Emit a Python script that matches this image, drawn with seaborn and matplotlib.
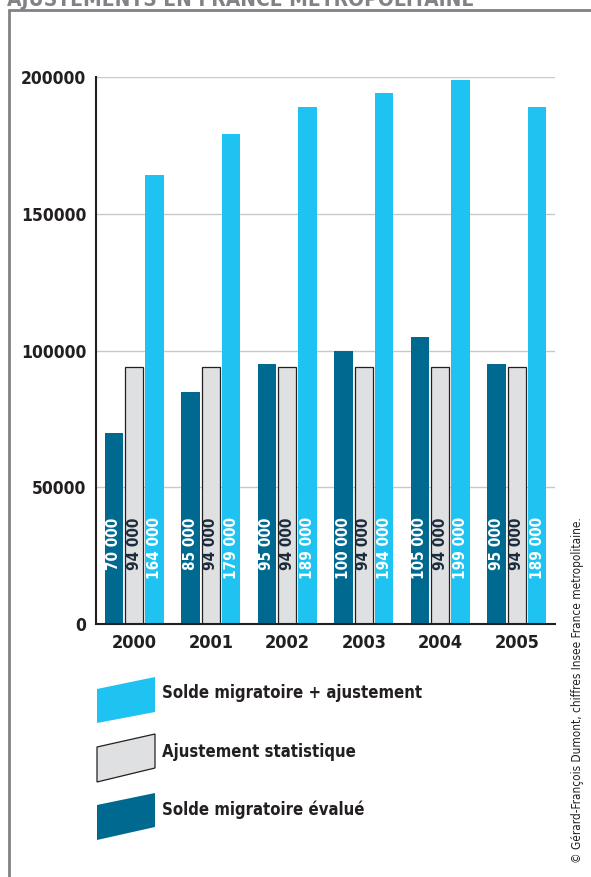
import matplotlib
matplotlib.use("Agg")
import matplotlib.pyplot as plt
import seaborn as sns
import pandas as pd
from matplotlib.patches import Polygon
from matplotlib.lines import Line2D

# Données
years = ["2000", "2001", "2002", "2003", "2004", "2005"]
solde_evalue = [70000, 85000, 95000, 100000, 105000, 95000]
ajustement = [94000, 94000, 94000, 94000, 94000, 94000]
solde_ajuste = [164000, 179000, 189000, 194000, 199000, 189000]
series = ["Solde migratoire évalué", "Ajustement statistique", "Solde migratoire + ajustement"]
colors = ["#006990", "#dfe0e2", "#1ec3f1"]
label_colors = ["#ffffff", "#1c2b3a", "#ffffff"]
y_ticks = [0, 50000, 100000, 150000, 200000]
title = "AJUSTEMENTS EN FRANCE MÉTROPOLITAINE"
credit = "© Gérard-François Dumont, chiffres Insee France metropolitaine."

sns.set_theme(style="white")
plt.rcParams['font.family'] = ['DejaVu Sans']
plt.rcParams['font.stretch'] = 'condensed'

rows = []
for s, vals in zip(series, [solde_evalue, ajustement, solde_ajuste]):
    for y, v in zip(years, vals):
        rows.append({"annee": y, "serie": s, "valeur": v})
df = pd.DataFrame(rows)

W, H = 591, 877
fig = plt.figure(figsize=(W / 100, H / 100), dpi=100)
fx = lambda x: x / W
fy = lambda y: 1 - y / H

ax = fig.add_axes([fx(96), fy(624), (555 - 96) / W, (624 - 77) / H])
sns.barplot(data=df, x="annee", y="valeur", hue="serie", hue_order=series,
            palette=dict(zip(series, colors)), saturation=1, gap=0.1,
            width=0.8, legend=False, ax=ax)

# bordure des barres grises + étiquettes
for i, cont in enumerate(ax.containers):
    for p in cont.patches:
        if i == 1:
            p.set_edgecolor("#231f20")
            p.set_linewidth(0.9)
        else:
            p.set_linewidth(0)
        v = p.get_height()
        ax.text(p.get_x() + p.get_width() / 2, 39000, f"{int(v):,}".replace(",", " "),
                rotation=90, ha="center", va="top", color=label_colors[i],
                fontsize=11, fontweight="bold", fontstretch="condensed")

ax.set_xlim(-0.5, 5.5)
ax.set_ylim(0, 200000)
ax.set_yticks(y_ticks)
ax.set_yticklabels([str(t) for t in y_ticks])
ax.set_axisbelow(True)
ax.yaxis.grid(True, color="#c9c9c9", lw=1)
ax.xaxis.grid(False)
ax.set_xlabel("")
ax.set_ylabel("")
sns.despine(ax=ax)
for s in ["left", "bottom"]:
    ax.spines[s].set_color("#231f20")
    ax.spines[s].set_linewidth(1.5)
ax.tick_params(axis="y", length=0, pad=7, labelsize=12.5, labelcolor="#231f20")
ax.tick_params(axis="x", length=0, pad=7, labelsize=13, labelcolor="#231f20")
for lab in ax.get_xticklabels() + ax.get_yticklabels():
    lab.set_fontweight("bold")
    lab.set_fontstretch("condensed")
ax.set_xticks([0.5, 1.5, 2.5, 3.5, 4.5, 5.5], minor=True)
ax.tick_params(axis="x", which="minor", direction="in", length=6, width=1.2, color="#231f20")

# légende
legend_shapes = [
    [(97, 689), (155, 677), (155, 712), (97, 723)],
    [(97, 747), (155, 734), (155, 768), (97, 782)],
    [(97, 805), (155, 793), (155, 827), (97, 840)],
]
legend_text_y = [693, 752, 810]
for k, idx in enumerate([2, 1, 0]):
    pts = [(fx(x), fy(y)) for x, y in legend_shapes[k]]
    fig.patches.append(Polygon(pts, closed=True, transform=fig.transFigure,
                               facecolor=colors[idx],
                               edgecolor="#231f20" if idx == 1 else "none", lw=0.9))
    fig.text(fx(162), fy(legend_text_y[k]), series[idx], ha="left", va="center",
             fontsize=12, fontweight="bold", fontstretch="condensed", color="#231f20")

# cadre et titre
fig.add_artist(Line2D([fx(9), 1], [fy(10), fy(10)], transform=fig.transFigure,
                      color="#808285", lw=2))
fig.add_artist(Line2D([fx(9), fx(9)], [fy(10), 0], transform=fig.transFigure,
                      color="#808285", lw=2))
fig.text(fx(7), fy(6), title, ha="left", va="baseline", fontsize=15,
         fontweight="bold", fontstretch="condensed", color="#808285")

fig.text(fx(578), fy(690), credit, rotation=90, ha="center", va="center",
         fontsize=8.5, fontstretch="condensed", color="#231f20")

fig.savefig("out.png", dpi=100)
